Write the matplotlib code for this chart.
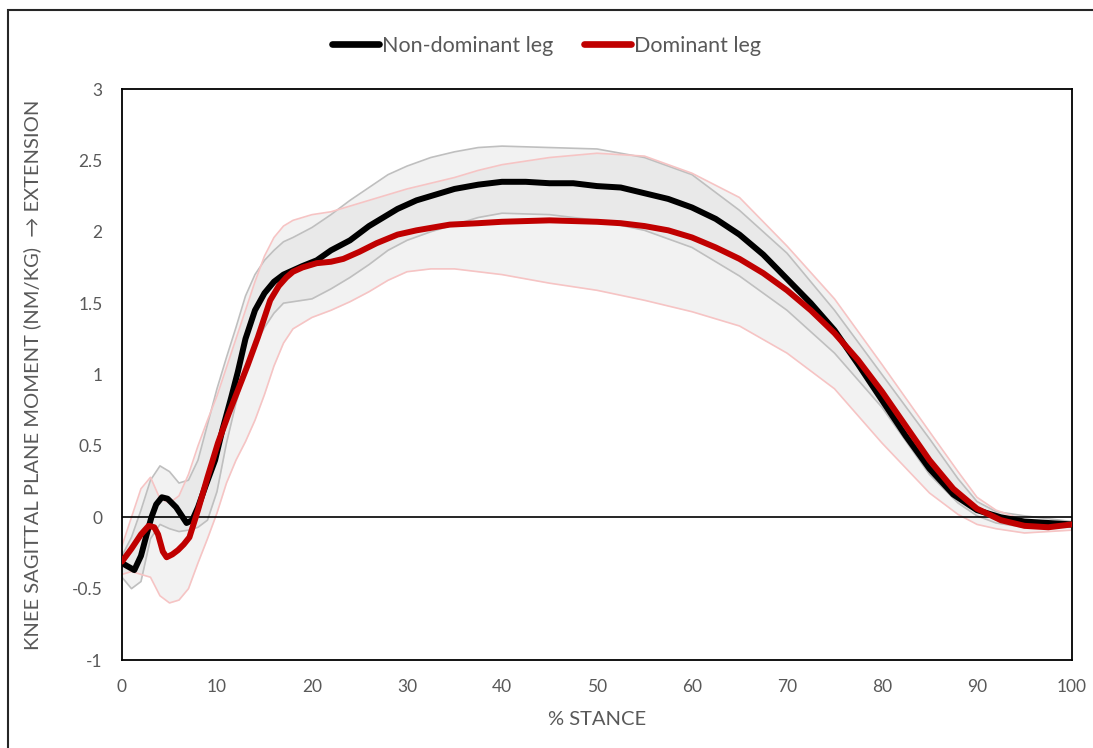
import numpy as np
import matplotlib
matplotlib.use('Agg')
import matplotlib.pyplot as plt
from matplotlib.patches import Rectangle

plt.rcParams['font.family'] = ['Lato', 'DejaVu Sans']

# Bandes (moyenne +/- ET) sur une grille commune
band_x = [0, 1, 2, 3, 4, 5, 6, 7, 8, 9, 10, 11, 12, 13, 14, 15, 16, 17, 18, 20, 22, 24, 26, 28, 30,
          32.5, 35, 37.5, 40, 45, 50, 55, 60, 65, 70, 75, 80, 85, 88, 90, 92, 95, 100]
nd_upper = [-0.27, -0.14, 0.05, 0.26, 0.36, 0.32, 0.24, 0.26, 0.40, 0.65, 0.90, 1.12, 1.33, 1.55, 1.70,
            1.80, 1.87, 1.93, 1.96, 2.03, 2.12, 2.22, 2.31, 2.40, 2.46, 2.52, 2.56, 2.59, 2.60, 2.59,
            2.58, 2.52, 2.40, 2.15, 1.85, 1.45, 1.00, 0.55, 0.27, 0.11, 0.04, 0.01, -0.03]
nd_lower = [-0.42, -0.50, -0.45, -0.15, -0.05, -0.08, -0.10, -0.09, -0.07, -0.02, 0.18, 0.52, 0.80, 1.02,
            1.20, 1.33, 1.43, 1.50, 1.51, 1.53, 1.60, 1.68, 1.77, 1.87, 1.94, 2.00, 2.05, 2.10, 2.13,
            2.12, 2.08, 2.01, 1.89, 1.69, 1.45, 1.15, 0.77, 0.30, 0.10, 0.01, -0.04, -0.07, -0.07]
d_upper = [-0.20, 0.00, 0.20, 0.28, 0.13, 0.10, 0.15, 0.30, 0.50, 0.68, 0.85, 1.05, 1.25, 1.45, 1.65,
           1.83, 1.96, 2.04, 2.08, 2.12, 2.14, 2.18, 2.22, 2.26, 2.30, 2.34, 2.38, 2.43, 2.47, 2.52,
           2.55, 2.53, 2.41, 2.24, 1.90, 1.53, 1.07, 0.60, 0.32, 0.14, 0.05, -0.02, -0.04]
d_lower = [-0.40, -0.38, -0.40, -0.42, -0.55, -0.60, -0.58, -0.50, -0.32, -0.15, 0.03, 0.24, 0.40, 0.53,
           0.68, 0.86, 1.06, 1.22, 1.32, 1.40, 1.45, 1.51, 1.58, 1.66, 1.72, 1.74, 1.74, 1.72, 1.70,
           1.64, 1.59, 1.52, 1.44, 1.34, 1.15, 0.90, 0.52, 0.17, 0.02, -0.05, -0.08, -0.11, -0.09]

# Moyennes
nd_x = [0, 0.5, 1.3, 2, 2.6, 3.1, 3.6, 4.2, 4.8, 5.7, 6.3, 6.8, 7.4, 8, 8.8, 9.8, 10.6, 11.5, 12.2, 13,
        14, 15, 16, 17, 18, 19, 20.5, 22, 24, 26, 27.5, 29, 31, 33, 35, 37.5, 40, 42.5, 45, 47.5, 50,
        52.5, 55, 57.5, 60, 62.5, 65, 67.5, 70, 72.5, 75, 77.5, 80, 82.5, 85, 87.5, 90, 92.5, 95, 97.5, 100]
nd_mean = [-0.32, -0.34, -0.37, -0.27, -0.12, 0.0, 0.09, 0.14, 0.13, 0.07, 0.01, -0.04, -0.02, 0.07,
           0.22, 0.40, 0.62, 0.84, 1.02, 1.25, 1.45, 1.57, 1.65, 1.70, 1.73, 1.76, 1.80, 1.87, 1.94,
           2.04, 2.10, 2.16, 2.22, 2.26, 2.30, 2.33, 2.35, 2.35, 2.34, 2.34, 2.32, 2.31, 2.27, 2.23,
           2.17, 2.09, 1.98, 1.84, 1.67, 1.50, 1.31, 1.07, 0.82, 0.57, 0.34, 0.16, 0.05, 0.0, -0.03,
           -0.04, -0.05]
d_x = [0, 1, 2, 2.8, 3.4, 3.8, 4.3, 4.7, 5.3, 5.9, 6.5, 7.1, 8, 9, 10.1, 11.2, 12.2, 13.2, 14.3, 15,
       15.6, 16.5, 17.3, 18, 19, 20.5, 22, 23.3, 25, 26.8, 29, 31, 34.5, 37.5, 40, 45, 50, 52.5, 55,
       57.5, 60, 62.5, 65, 67.5, 70, 72.5, 75, 77.5, 80, 82.5, 85, 87.5, 90, 92.5, 95, 97.5, 100]
d_mean = [-0.31, -0.22, -0.12, -0.06, -0.07, -0.12, -0.24, -0.28, -0.26, -0.23, -0.19, -0.14, 0.05,
          0.28, 0.52, 0.72, 0.89, 1.06, 1.26, 1.40, 1.52, 1.62, 1.68, 1.72, 1.75, 1.78, 1.79, 1.81,
          1.86, 1.92, 1.98, 2.01, 2.05, 2.06, 2.07, 2.08, 2.07, 2.06, 2.04, 2.01, 1.96, 1.89, 1.81,
          1.71, 1.59, 1.45, 1.29, 1.10, 0.88, 0.64, 0.40, 0.20, 0.06, -0.02, -0.06, -0.07, -0.05]

x_ticks = [0, 10, 20, 30, 40, 50, 60, 70, 80, 90, 100]
y_ticks = [-1, -0.5, 0, 0.5, 1, 1.5, 2, 2.5, 3]
y_tick_labels = ['-1', '-0.5', '0', '0.5', '1', '1.5', '2', '2.5', '3']

txt_grey = '#595959'

fig = plt.figure(figsize=(10.93, 7.48), dpi=100)
ax = fig.add_axes([0.1116, 0.1176, 0.8692, 0.7634])

# Zones ombrées
ax.fill_between(band_x, nd_lower, nd_upper, color='#D9D9D9', alpha=0.34, lw=0, zorder=1)
ax.fill_between(band_x, d_lower, d_upper, color='#D9D9D9', alpha=0.34, lw=0, zorder=1)

# Bords des bandes
ax.plot(band_x, nd_upper, color='#BFBFBF', lw=1.2, zorder=2)
ax.plot(band_x, nd_lower, color='#BFBFBF', lw=1.2, zorder=2)
ax.plot(band_x, d_upper, color='#F6C4C4', lw=1.2, zorder=2)
ax.plot(band_x, d_lower, color='#F6C4C4', lw=1.2, zorder=2)

ax.axhline(0, color='black', lw=1.2, zorder=3)

ax.plot(nd_x, nd_mean, color='black', lw=4.3, solid_capstyle='round', solid_joinstyle='round',
        zorder=4, label='Non-dominant leg')
ax.plot(d_x, d_mean, color='#C00000', lw=4.3, solid_capstyle='round', solid_joinstyle='round',
        zorder=5, label='Dominant leg')

ax.set_xlim(0, 100)
ax.set_ylim(-1, 3)
ax.set_xticks(x_ticks)
ax.set_yticks(y_ticks)
ax.set_yticklabels(y_tick_labels)
ax.tick_params(length=0, labelsize=12.5, labelcolor=txt_grey, pad=14)
for s in ax.spines.values():
    s.set_color('black')
    s.set_linewidth(1.3)

ax.set_xlabel('% STANCE', fontsize=14.5, color=txt_grey, labelpad=11)
ax.set_ylabel('KNEE SAGITTAL PLANE MOMENT (NM/KG)  \u2192 EXTENSION', fontsize=14.5,
              color=txt_grey, labelpad=22)

leg = fig.legend(loc='center', bbox_to_anchor=(0.5, 1 - 46 / 748), ncol=2, frameon=False,
                 fontsize=15.5, handlelength=2.2, handletextpad=0.15, columnspacing=1.4)
for t in leg.get_texts():
    t.set_color(txt_grey)
for h in leg.get_lines():
    h.set_linewidth(4.8)
    h.set_solid_capstyle('round')

# Cadre extérieur
fig.patches.append(Rectangle((8 / 1093, -0.05), 1.1, 1.05 - 10 / 748, transform=fig.transFigure,
                             fill=False, edgecolor='#262626', lw=1.5))

fig.savefig('out.png', dpi=100)
